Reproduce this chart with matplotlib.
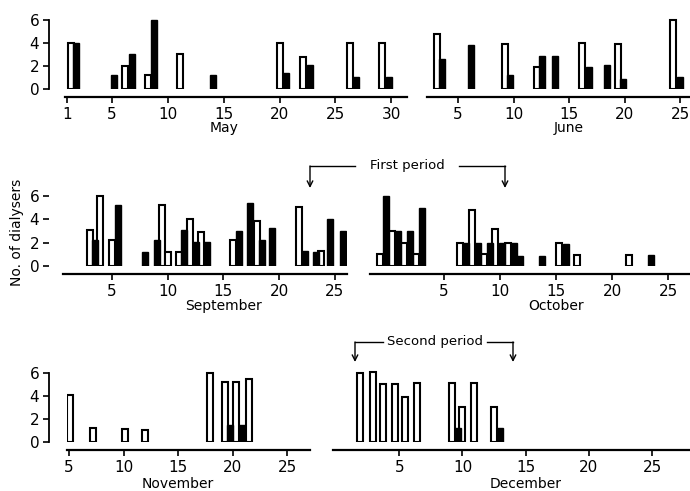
import matplotlib
matplotlib.use('Agg')
import matplotlib.pyplot as plt

# bar centres are in days of the month, heights in number of dialysers
may_open_x = [1.31, 6.18, 8.23, 11.13, 20.02, 22.1, 26.27, 29.2]
may_open_h = [4, 2, 1.2, 3, 4, 2.8, 4, 4]
may_fill_x = [1.8, 5.15, 6.76, 8.77, 14.04, 20.55, 22.7, 26.85, 29.8]
may_fill_h = [4, 1.2, 3, 6, 1.2, 1.4, 2.1, 1, 1]

june_open_x = [3.06, 9.19, 12.1, 16.2, 19.4, 24.4]
june_open_h = [4.8, 3.9, 1.9, 4.0, 3.9, 6.0]
june_fill_x = [3.56, 6.2, 9.7, 12.6, 13.7, 16.8, 18.4, 19.9, 25.0]
june_fill_h = [2.65, 3.8, 1.2, 2.9, 2.9, 1.9, 2.05, 0.9, 1.0]

sep_open_x = [3.03, 3.9, 5.0, 9.5, 10.0, 11.0, 12.0, 13.0, 15.9, 18.0, 21.8, 23.8]
sep_open_h = [3.1, 6.0, 2.2, 5.2, 1.2, 1.2, 4.0, 2.9, 2.2, 3.9, 5.1, 1.3]
sep_fill_x = [3.5, 5.54, 7.96, 9.0, 11.5, 12.5, 13.5, 16.4, 17.4, 18.5, 19.4, 22.3, 23.3, 24.6, 25.7]
sep_fill_h = [2.2, 5.2, 1.2, 2.2, 3.1, 2.1, 2.1, 3.0, 5.4, 2.2, 3.3, 1.3, 1.2, 4.0, 3.0]

oct_open_x = [-0.67, 0.4, 1.47, 2.54, 6.43, 7.5, 8.57, 9.6, 10.7, 15.3, 16.9, 21.5]
oct_open_h = [1.0, 3.0, 2.0, 1.0, 2.0, 4.8, 1.0, 3.2, 2.0, 2.0, 0.95, 0.95]
oct_fill_x = [-0.13, 0.94, 2.0, 3.08, 6.96, 8.04, 9.1, 10.2, 11.25, 11.8, 13.75, 15.85, 23.5]
oct_fill_h = [6.0, 3.0, 3.0, 5.0, 2.0, 2.0, 2.0, 2.0, 2.0, 0.9, 0.9, 1.9, 0.95]

nov_open_x = [5.05, 7.2, 10.1, 12.0, 17.9, 19.3, 20.3, 21.5]
nov_open_h = [4.1, 1.2, 1.1, 1.0, 6.0, 5.2, 5.25, 5.45]
nov_fill_x = [19.8, 20.9]
nov_fill_h = [1.45, 1.45]

dec_open_x = [1.9, 2.9, 3.7, 4.7, 5.45, 6.4, 9.2, 10.0, 10.9, 12.5]
dec_open_h = [6.0, 6.1, 5.0, 5.0, 3.9, 5.1, 5.1, 3.0, 5.1, 3.0]
dec_fill_x = [9.65, 13.0]
dec_fill_h = [1.2, 1.2]

y_ticks = [0, 2, 4, 6]
x_ticks = [5, 10, 15, 20, 25]
may_ticks = [1, 5, 10, 15, 20, 25, 30]

W, H = 690, 491
fig = plt.figure(figsize=(W / 100, H / 100), dpi=100)

# (month, open x, open h, filled x, filled h, left px, right px, zero px, height px, xlim, ticks, left column?, row)
panels = [
    ('May', may_open_x, may_open_h, may_fill_x, may_fill_h, 65, 407, 89, 72.5, (0.8, 31.4), may_ticks, True, 1),
    ('June', june_open_x, june_open_h, june_fill_x, june_fill_h, 427, 690, 89, 72.5, (2.2, 25.9), x_ticks, False, 1),
    ('September', sep_open_x, sep_open_h, sep_fill_x, sep_fill_h, 63, 347, 266, 73.5, (0.6, 26.1), x_ticks, True, 2),
    ('October', oct_open_x, oct_open_h, oct_fill_x, oct_fill_h, 370, 690, 266, 73.5, (-1.6, 26.96), x_ticks, False, 2),
    ('November', nov_open_x, nov_open_h, nov_fill_x, nov_fill_h, 67, 310, 442, 72.5, (4.8, 27.1), x_ticks, True, 3),
    ('December', dec_open_x, dec_open_h, dec_fill_x, dec_fill_h, 333, 690, 442, 72.5, (-0.24, 28.0), x_ticks, False, 3),
]

for month, ox, oh, fx, fh, l, r, z, hh, xlim, ticks, left, row in panels:
    ax = fig.add_axes([l / W, 1 - z / H, (r - l) / W, hh / H])
    ax.patch.set_visible(False)
    bw = 6.0 / ((r - l) / (xlim[1] - xlim[0]))
    ax.bar(ox, oh, width=bw, color='white', edgecolor='black', linewidth=1.5, zorder=2)
    ax.bar(fx, fh, width=bw, color='black', edgecolor='black', linewidth=1.0, zorder=3)
    ax.set_xlim(*xlim)
    ax.set_ylim(0, 6.3)
    ax.set_xticks(ticks)
    ax.tick_params(axis='x', direction='out', length=4, width=1.2, labelsize=11, pad=3)
    ax.spines['top'].set_visible(False)
    ax.spines['right'].set_visible(False)
    ax.spines['bottom'].set_position(('outward', 6))
    ax.spines['bottom'].set_linewidth(1.6)
    if left:
        ax.set_yticks(y_ticks)
        ax.tick_params(axis='y', direction='out', length=4, width=1.2, labelsize=11, pad=3)
        ax.spines['left'].set_position(('outward', (l - 49) * 0.72))
        ax.spines['left'].set_bounds(0, 6)
        ax.spines['left'].set_linewidth(1.3)
        if row == 2:
            ax.spines['left'].set_visible(False)
    else:
        ax.set_yticks([])
        ax.spines['left'].set_visible(False)
    lab_y = {1: -0.54, 2: -0.545, 3: -0.58}[row]
    ax.text(15, lab_y, month, transform=ax.get_xaxis_transform(),
            ha='center', va='center', fontsize=10)

# overlay for the period markers and the shared y label
ov = fig.add_axes([0, 0, 1, 1], zorder=5)
ov.set_xlim(0, W)
ov.set_ylim(H, 0)
ov.axis('off')

def period(label, x0, x1, y, tip, xt):
    ov.text(xt, y, label, ha='center', va='center', fontsize=9.5)
    half = 52
    ov.plot([x0, xt - half], [y, y], color='black', lw=1.0)
    ov.plot([xt + half, x1], [y, y], color='black', lw=1.0)
    for x in (x0, x1):
        ov.annotate('', xy=(x, tip), xytext=(x, y),
                    arrowprops=dict(arrowstyle='->', color='black', lw=1.0,
                                    shrinkA=0, shrinkB=0, mutation_scale=10))

period('First period', 310, 505, 166, 188, 407)
period('Second period', 355, 513, 342, 362, 435)

ov.text(17, 232, 'No. of dialysers', rotation=90, ha='center', va='center', fontsize=10)

fig.savefig('out.png', dpi=100)
